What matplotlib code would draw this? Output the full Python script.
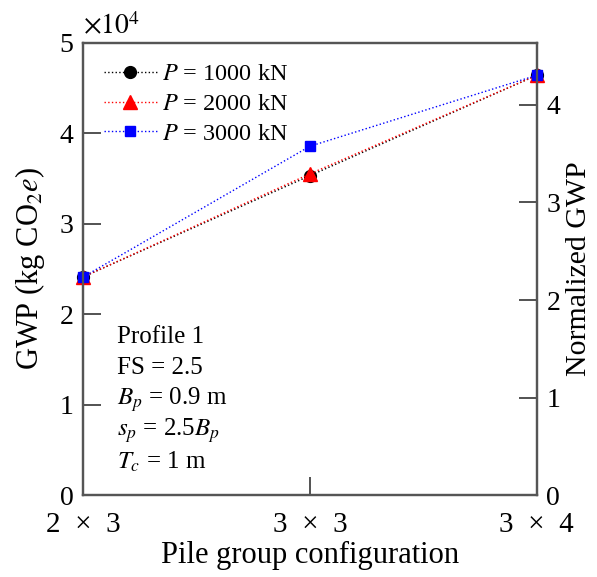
import numpy as np
import matplotlib
matplotlib.use("Agg")
import matplotlib.pyplot as plt
from matplotlib.ticker import FuncFormatter

plt.rcParams["font.family"] = ["Liberation Serif", "DejaVu Serif"]
plt.rcParams["mathtext.fontset"] = "stix"

# Pile group configurations and embodied carbon for each axial load case
configs = ["2\u2002×\u20023", "3\u2002×\u20023", "3\u2002×\u20024"]
gwp_1000 = [24100, 35300, 46400]
gwp_2000 = [24100, 35500, 46400]
gwp_3000 = [24100, 38550, 46400]
gwp_ref = 10780  # GWP used to normalise the right-hand axis

notes = ["Profile 1", "FS = 2.5", "$B_p$ = 0.9 m", "$s_p$ = 2.5$B_p$", "$T_c$ = 1 m"]

fig = plt.figure(figsize=(5.97, 5.77), dpi=100)
ax = fig.add_axes([0.139, 0.142, 0.760, 0.784])

x = np.arange(len(configs))
series = [
    (gwp_1000, "k", "o", 8.5, "$P$ = 1000 kN"),
    (gwp_2000, "red", "^", 9.5, "$P$ = 2000 kN"),
    (gwp_3000, "blue", "s", 6.5, "$P$ = 3000 kN"),
]
for vals, color, marker, ms, label in series:
    ax.plot(x, vals, ls=":", lw=1.0, color=color, marker=marker, ms=ms,
            mec=color, mfc=color, label=label, clip_on=False, zorder=3)

ax.set_xlim(0, 2)
ax.set_ylim(0, 5e4)
ax.set_xticks(x)
ax.set_xticklabels(configs)
ax.set_yticks(np.arange(0, 5.1e4, 1e4))
ax.yaxis.set_major_formatter(FuncFormatter(lambda v, p: f"{v / 1e4:g}"))
ax.text(0.0, 1.005, r"$\times10^{4}$", transform=ax.transAxes, fontsize=20,
        ha="left", va="bottom")

ax.set_xlabel("Pile group configuration", fontsize=22, labelpad=2)
ax.set_ylabel(r"GWP (kg CO$_2$$\mathit{e}$)", fontsize=22, labelpad=9)

ax2 = ax.twinx()
ax2.set_ylim(0, 5e4 / gwp_ref)
ax2.set_yticks(range(0, 5))
ax2.set_ylabel("Normalized GWP", fontsize=21.5, labelpad=4)

for a in (ax, ax2):
    a.tick_params(direction="in", length=13, width=1.3, labelsize=20,
                  color="#444444", pad=7)
    for s in a.spines.values():
        s.set_color("#555555")
        s.set_linewidth(1.6)
ax.tick_params(axis="x", pad=12, labelsize=21)
ax2.tick_params(left=False, right=True)
ax.tick_params(right=False, top=False)

leg = ax.legend(loc="upper left", fontsize=17.5, frameon=False,
                handlelength=2.2, handletextpad=0.2, labelspacing=0.32,
                borderpad=0.4, borderaxespad=0.45)

for i, line in enumerate(notes):
    ax.text(0.075, 0.35 - i * 0.069, line, transform=ax.transAxes,
            fontsize=18, ha="left", va="center")

fig.savefig("out.png", dpi=100)
